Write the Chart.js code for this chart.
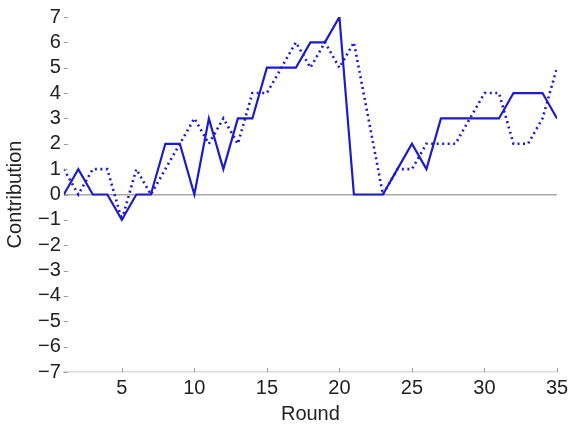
<!DOCTYPE html>
<html>
<head>
<meta charset="utf-8">
<script src="https://cdn.jsdelivr.net/npm/chart.js@4"></script>
<style>
  body { margin: 0; background: #fff; }
  #wrap { width: 571px; height: 426px; }
</style>
</head>
<body>
<div id="wrap"><canvas id="myChart"></canvas></div>
<script>
const rounds = [1,2,3,4,5,6,7,8,9,10,11,12,13,14,15,16,17,18,19,20,21,22,23,24,25,26,27,28,29,30,31,32,33,34,35];
const solidValues = [0,1,0,0,-1,0,0,2,2,0,3,1,3,3,5,5,5,6,6,7,0,0,0,1,2,1,3,3,3,3,3,4,4,4,3];
const dottedValues = [1,0,1,1,-1,1,0,1,2,3,2,3,2,4,4,5,6,5,6,5,6,3,0,1,1,2,2,2,3,4,4,2,2,3,5];
const xTicks = [5,10,15,20,25,30,35];
const yMin = -7, yMax = 7;

const blue = '#1c1ccc';
const font = { family: '"Liberation Sans", Arial, sans-serif', size: 20, lineHeight: 1 };
const titleFont = { family: '"Liberation Sans", Arial, sans-serif', size: 20, lineHeight: 1.2 };

const toPoints = vals => rounds.map((r, i) => ({ x: r, y: vals[i] }));

// small inward tick marks, matlab style
const innerTicks = {
    id: 'innerTicks',
    afterDraw(chart) {
        const c = chart.ctx, a = chart.chartArea;
        const xs = chart.scales.x, ys = chart.scales.y;
        c.save();
        c.strokeStyle = '#9a9a9a';
        c.lineWidth = 1;
        c.beginPath();
        ys.ticks.forEach(t => {
            const py = Math.round(ys.getPixelForValue(t.value)) + 0.5;
            c.moveTo(a.left, py);
            c.lineTo(a.left + 4, py);
        });
        xs.ticks.forEach(t => {
            const px = Math.round(xs.getPixelForValue(t.value)) + 0.5;
            c.moveTo(px, a.bottom);
            c.lineTo(px, a.bottom - 4);
        });
        c.stroke();
        c.restore();
    }
};

const ctx = document.getElementById('myChart');

new Chart(ctx, {
    type: 'line',
    data: {
        datasets: [{
            label: 'solid',
            data: toPoints(solidValues),
            borderColor: blue,
            borderWidth: 2.2,
            pointRadius: 0,
            tension: 0
        }, {
            label: 'dotted',
            data: toPoints(dottedValues),
            borderColor: blue,
            borderWidth: 2.6,
            borderDash: [2, 3.5],
            pointRadius: 0,
            tension: 0
        }]
    },
    options: {
        responsive: true,
        maintainAspectRatio: false,
        animation: false,
        layout: { padding: { top: 17, right: 0, bottom: 2, left: 3 } },
        plugins: {
            legend: { display: false },
            tooltip: { enabled: false }
        },
        scales: {
            x: {
                type: 'linear',
                min: 1,
                max: 35,
                afterBuildTicks: scale => { scale.ticks = xTicks.map(v => ({ value: v })); },
                afterFit: scale => { scale.paddingRight = 14; },
                grid: { display: false, drawTicks: false },
                border: { display: true, color: '#dcdcdc', width: 1.5 },
                ticks: { color: '#222', font: font, padding: 6, maxRotation: 0 },
                title: { display: true, text: 'Round', color: '#222', font: font, padding: { top: 0, bottom: 0 } }
            },
            y: {
                min: yMin,
                max: yMax,
                grid: {
                    drawTicks: false,
                    lineWidth: 1.5,
                    color: c => c.tick && c.tick.value === 0 ? '#a8a8a8' : 'rgba(0,0,0,0)'
                },
                border: { display: false },
                ticks: {
                    stepSize: 1,
                    autoSkip: false,
                    color: '#222',
                    font: font,
                    padding: 3,
                    callback: v => v < 0 ? '\u2212' + Math.abs(v) : String(v)
                },
                title: { display: true, text: 'Contribution', color: '#222', font: titleFont, padding: { top: 0, bottom: 8 } }
            }
        }
    },
    plugins: [innerTicks]
});
</script>
</body>
</html>
